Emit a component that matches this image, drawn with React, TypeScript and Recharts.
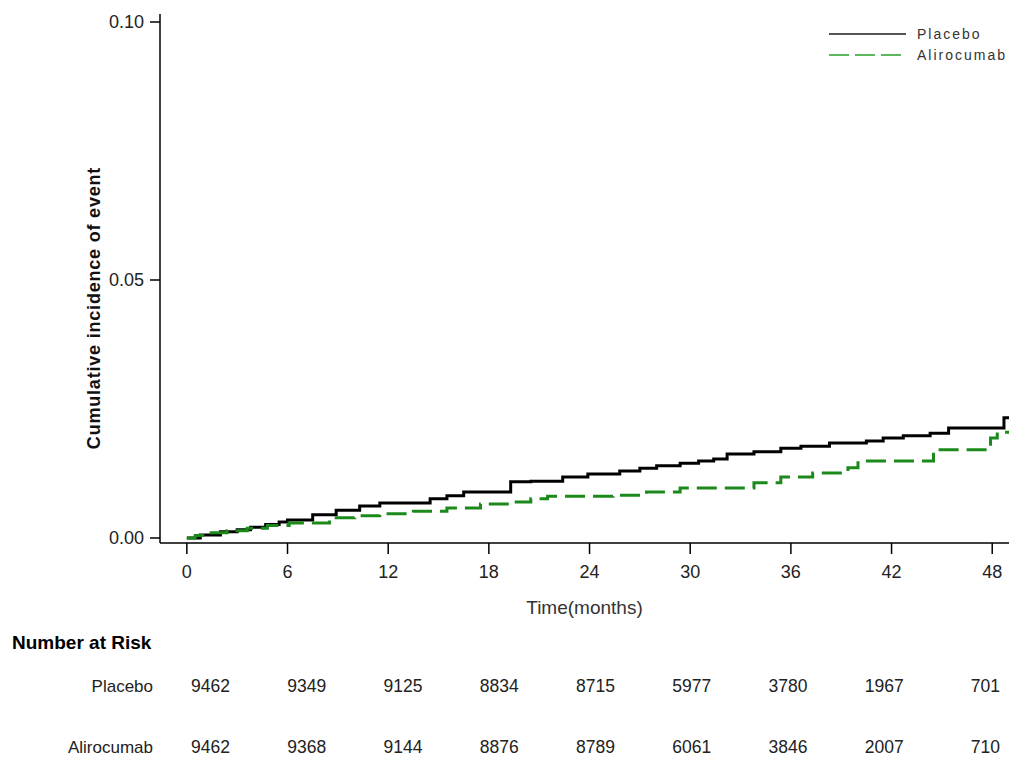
import React from "react";
import { LineChart, Line, XAxis, YAxis, Legend } from "recharts";

// Kaplan-Meier style cumulative incidence, step points (months, incidence)
const placeboMonths = [0, 0.8, 2.0, 3.0, 3.8, 4.7, 5.5, 6.0, 7.5, 8.9, 10.3, 11.5, 14.5, 15.5, 16.5, 19.3, 20.5, 22.4, 23.9, 25.8, 27.0, 28.0, 29.4, 30.5, 31.4, 32.2, 33.8, 35.4, 36.6, 38.3, 40.5, 41.5, 42.7, 44.3, 45.4, 48.7, 49];
const placeboIncidence = [0, 0.0006, 0.0012, 0.0016, 0.0021, 0.0026, 0.0031, 0.0035, 0.0045, 0.0054, 0.0062, 0.0068, 0.0076, 0.0082, 0.0089, 0.0109, 0.011, 0.0118, 0.0124, 0.013, 0.0135, 0.014, 0.0145, 0.0149, 0.0153, 0.0163, 0.0167, 0.0174, 0.0178, 0.0184, 0.0188, 0.0194, 0.0198, 0.0203, 0.0213, 0.0233, 0.0233];

const alirocumabMonths = [0, 0.5, 1.2, 2.4, 3.6, 4.8, 6.1, 8.5, 10.0, 11.5, 13.5, 15.5, 17.5, 19.4, 20.5, 21.5, 25.4, 27.4, 29.4, 33.8, 35.4, 37.3, 39.4, 40.0, 44.5, 47.9, 48.3, 49];
const alirocumabIncidence = [0, 0.0005, 0.001, 0.0014, 0.0019, 0.0024, 0.0029, 0.0039, 0.0043, 0.0047, 0.0052, 0.0058, 0.0066, 0.007, 0.0076, 0.0081, 0.0083, 0.0089, 0.0097, 0.0107, 0.0118, 0.0126, 0.0136, 0.0149, 0.0171, 0.0194, 0.0205, 0.0205];

const xTicks = [0, 6, 12, 18, 24, 30, 36, 42, 48];
const yTicks = [0, 0.05, 0.1];

const placeboAtRisk = [9462, 9349, 9125, 8834, 8715, 5977, 3780, 1967, 701];
const alirocumabAtRisk = [9462, 9368, 9144, 8876, 8789, 6061, 3846, 2007, 710];

const placeboData = placeboMonths.map((t, i) => ({ t, v: placeboIncidence[i] }));
const alirocumabData = alirocumabMonths.map((t, i) => ({ t, v: alirocumabIncidence[i] }));

const FONT = "'Liberation Sans', Arial, sans-serif";
const GREEN = "#1b8a1b";

function LegendBox() {
  return (
    <svg width={190} height={46} style={{ display: "block" }}>
      <line x1={9} x2={86} y1={14} y2={14} stroke="#555" strokeWidth={2} />
      <text x={97} y={19} fontFamily={FONT} fontSize={14} letterSpacing={2} fill="#333">
        Placebo
      </text>
      <line x1={9} x2={86} y1={35} y2={35} stroke="#5cb85c" strokeWidth={2} strokeDasharray="20 6" />
      <text x={97} y={40} fontFamily={FONT} fontSize={14} letterSpacing={2} fill="#333">
        Alirocumab
      </text>
    </svg>
  );
}

export default function App() {
  const colRight = (i: number) => 230 + i * 96.25;
  return (
    <div style={{ position: "absolute", left: 0, top: 0, width: 1009, height: 758, background: "#fff" }}>
      <LineChart
        width={1009}
        height={758}
        margin={{ top: 14, right: 0, bottom: 165, left: 0 }}
      >
        <XAxis
          dataKey="t"
          type="number"
          domain={[-1.6, 49]}
          allowDataOverflow
          ticks={xTicks}
          interval={0}
          height={50}
          tickSize={11}
          tickMargin={11}
          stroke="#000"
          strokeWidth={1.5}
          tick={{ fill: "#222", fontSize: 18, fontFamily: FONT }}
          label={{ value: "Time(months)", position: "bottom", offset: 8, fill: "#333", fontSize: 19, fontFamily: FONT }}
        />
        <YAxis
          type="number"
          domain={[-0.00097, 0.10155]}
          allowDataOverflow
          ticks={yTicks}
          interval={0}
          width={160}
          tickSize={10}
          tickMargin={6}
          stroke="#000"
          strokeWidth={1.5}
          tickFormatter={(v: number) => v.toFixed(2)}
          tick={{ fill: "#222", fontSize: 18, fontFamily: FONT }}
        />
        <Legend
          layout="horizontal"
          verticalAlign="middle"
          align="center"
          wrapperStyle={{ position: "absolute", left: 820, top: 20, width: 190, height: 46 }}
          content={() => <LegendBox />}
        />
        <Line
          data={placeboData}
          dataKey="v"
          name="Placebo"
          type="stepAfter"
          stroke="#000"
          strokeWidth={3}
          dot={false}
          activeDot={false}
          isAnimationActive={false}
        />
        <Line
          data={alirocumabData}
          dataKey="v"
          name="Alirocumab"
          type="stepAfter"
          stroke={GREEN}
          strokeWidth={3}
          strokeDasharray="20 8"
          dot={false}
          activeDot={false}
          isAnimationActive={false}
        />
      </LineChart>
      <svg
        width={1009}
        height={758}
        style={{ position: "absolute", left: 0, top: 0, pointerEvents: "none" }}
      >
        <text
          x={94}
          y={308}
          transform="rotate(-90, 94, 308)"
          textAnchor="middle"
          dominantBaseline="central"
          fontFamily={FONT}
          fontWeight="bold"
          fontSize={18}
          letterSpacing={0.8}
          fill="#111"
        >
          Cumulative incidence of event
        </text>
        <text x={12} y={649} fontFamily={FONT} fontWeight="bold" fontSize={19} fill="#000">
          Number at Risk
        </text>
        <text x={153} y={692} textAnchor="end" fontFamily={FONT} fontSize={17} fill="#222">
          Placebo
        </text>
        <text x={153} y={753} textAnchor="end" fontFamily={FONT} fontSize={17} fill="#222">
          Alirocumab
        </text>
        {placeboAtRisk.map((n, i) => (
          <text key={"p" + i} x={colRight(i)} y={692} textAnchor="end" fontFamily={FONT} fontSize={17.5} fill="#222">
            {n}
          </text>
        ))}
        {alirocumabAtRisk.map((n, i) => (
          <text key={"a" + i} x={colRight(i)} y={753} textAnchor="end" fontFamily={FONT} fontSize={17.5} fill="#222">
            {n}
          </text>
        ))}
      </svg>
    </div>
  );
}
